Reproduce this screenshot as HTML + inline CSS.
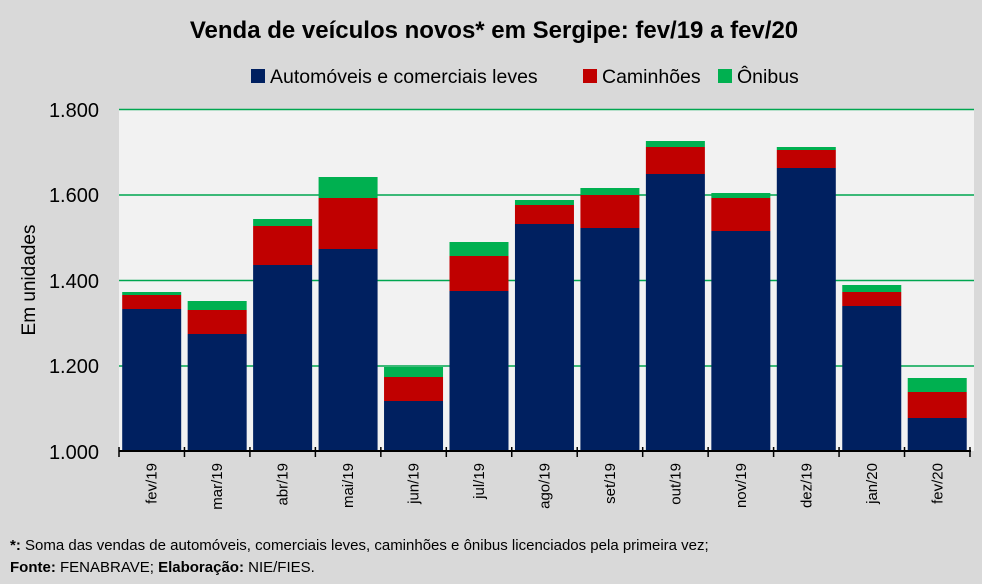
<!DOCTYPE html>
<html><head><meta charset="utf-8"><style>
body{margin:0;width:982px;height:579px;background:#d9d9d9;font-family:"Liberation Sans",sans-serif;overflow:hidden}
</style></head><body>
<svg width="982" height="579" xmlns="http://www.w3.org/2000/svg" font-family="Liberation Sans, sans-serif">
<rect x="0" y="0" width="982" height="579" fill="#d9d9d9"/>
<rect x="119" y="109" width="855" height="342" fill="#f2f2f2"/>
<text x="494" y="38" font-size="24" font-weight="bold" text-anchor="middle" fill="#000">Venda de veículos novos* em Sergipe: fev/19 a fev/20</text>
<rect x="251" y="69" width="14" height="14" fill="#002060"/>
<text x="270" y="83" font-size="19.5" fill="#000">Automóveis e comerciais leves</text>
<rect x="583" y="69" width="14" height="14" fill="#c00000"/>
<text x="602" y="83" font-size="19.5" fill="#000">Caminhões</text>
<rect x="718" y="69" width="14" height="14" fill="#00b050"/>
<text x="737" y="83" font-size="19.5" fill="#000">Ônibus</text>
<g stroke="#00a650" stroke-width="1.5">
<line x1="119" y1="109.5" x2="974" y2="109.5"/>
<line x1="119" y1="195" x2="974" y2="195"/>
<line x1="119" y1="280.5" x2="974" y2="280.5"/>
<line x1="119" y1="366" x2="974" y2="366"/>
</g>
<g font-size="20" text-anchor="end" fill="#000">
<text x="99" y="117">1.800</text>
<text x="99" y="202">1.600</text>
<text x="99" y="288">1.400</text>
<text x="99" y="373">1.200</text>
<text x="99" y="459">1.000</text>
</g>
<text transform="translate(35,280) rotate(-90)" font-size="19" text-anchor="middle" fill="#000">Em unidades</text>
<g id="bars"></g>
<line x1="119" y1="451" x2="971" y2="451" stroke="#000" stroke-width="2"/>
<g id="ticks" stroke="#000" stroke-width="1.5"></g>
<g id="labels" font-size="15" fill="#000"></g>
<text x="10" y="550" font-size="15" fill="#000"><tspan font-weight="bold">*:</tspan> Soma das vendas de automóveis, comerciais leves, caminhões e ônibus licenciados pela primeira vez;</text>
<text x="10" y="572" font-size="15" fill="#000"><tspan font-weight="bold">Fonte:</tspan> FENABRAVE; <tspan font-weight="bold">Elaboração:</tspan> NIE/FIES.</text>
</svg>
<script>
var d=[["fev/19",292,295,309],["mar/19",301,310,334],["abr/19",219,226,265],["mai/19",177,198,249],["jun/19",367,377,401],["jul/19",242,256,291],["ago/19",200,205,224],["set/19",188,195,228],["out/19",141,147,174],["nov/19",193,198,231],["dez/19",147,150,168],["jan/20",285,292,306],["fev/20",378,392,418]];
var ns="http://www.w3.org/2000/svg",w=65.46,b=document.getElementById("bars"),t=document.getElementById("ticks"),l=document.getElementById("labels");
function r(p,x,y,wd,h,f){var e=document.createElementNS(ns,"rect");e.setAttribute("x",x);e.setAttribute("y",y);e.setAttribute("width",wd);e.setAttribute("height",h);e.setAttribute("fill",f);p.appendChild(e);}
for(var i=0;i<13;i++){var x=119+i*w+3.2,v=d[i];
r(b,x,v[1],59,v[2]-v[1],"#00b050");r(b,x,v[2],59,v[3]-v[2],"#c00000");r(b,x,v[3],59,451-v[3],"#002060");
var cx=119+i*w+w/2,tx=document.createElementNS(ns,"text");tx.setAttribute("transform","translate("+(cx+5)+",463) rotate(-90)");tx.setAttribute("text-anchor","end");tx.textContent=v[0];l.appendChild(tx);}
for(var i=0;i<=13;i++){var x=119+i*w,ln=document.createElementNS(ns,"line");ln.setAttribute("x1",x);ln.setAttribute("x2",x);ln.setAttribute("y1",447);ln.setAttribute("y2",457);t.appendChild(ln);}
</script>
</body></html>
